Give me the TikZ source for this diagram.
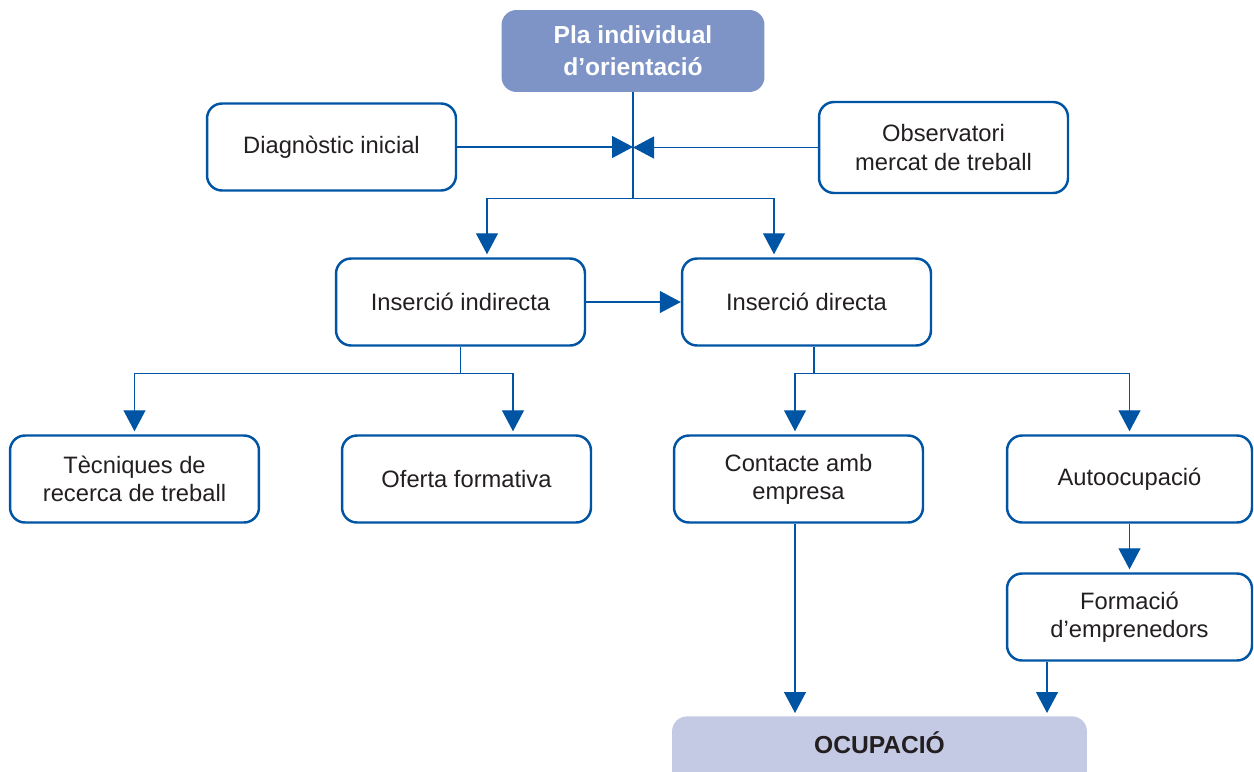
\documentclass[tikz,border=0pt]{standalone}
\usepackage{fontspec}
\setmainfont{Liberation Sans}
\usetikzlibrary{arrows.meta}
\definecolor{blau}{RGB}{0,84,164}
\definecolor{blaupla}{RGB}{127,148,198}
\definecolor{blauocu}{RGB}{197,202,228}
\definecolor{tinta}{RGB}{35,31,32}
\begin{document}
\begin{tikzpicture}[x=0.02cm,y=-0.02cm,>={Triangle[length=0.42cm,width=0.44cm]},
		caixa/.style={draw=blau,line width=1.4pt,rounded corners=0.3cm,fill=white,minimum width=4.98cm,minimum height=1.74cm,align=center,text=tinta,font=\fontsize{13.5}{16}\selectfont},
		fil/.style={draw=blau,line width=0.7pt},
		fletxa/.style={fil,->,shorten >=0.06cm}]
				\clip (0,0) rectangle (1254,771);
				\node[fill=blaupla,rounded corners=0.3cm,minimum width=5.26cm,minimum height=1.64cm,align=center,text=white,font=\bfseries\fontsize{14}{18}\selectfont] (pla) at (633,51) {Pla individual\\d’orientació};
				\node[caixa] (diag) at (331.5,147) {Diagnòstic inicial};
				\node[caixa,minimum height=1.82cm] (obs) at (943.5,147.5) {Observatori\\mercat de treball};
				\node[caixa] (indir) at (460.5,302) {Inserció indirecta};
				\node[caixa] (dir) at (806.5,302) {Inserció directa};
				\node[caixa] (tec) at (134.5,479) {Tècniques de\\recerca de treball};
				\node[caixa] (ofe) at (466.5,479) {Oferta formativa};
				\node[caixa] (con) at (798.5,479) {Contacte amb\\empresa};
				\node[caixa,minimum width=4.9cm] (auto) at (1129.5,479) {Autoocupació};
				\node[caixa,minimum width=4.9cm] (form) at (1129.5,617) {Formació\\d’emprenedors};
				\node[fill=blauocu,rounded corners=0.3cm,anchor=north,minimum width=8.3cm,inner ysep=0pt,text height=0.74cm,text depth=1.0cm,text=tinta,font=\bfseries\fontsize{14}{16}\selectfont] (ocu) at (879.5,716) {OCUPACIÓ};
				\draw[fil] (pla.south) -- ++(0,106) coordinate (split);
				\draw[fil,->] (diag) -- (diag -| pla);
				\draw[fil,->] (obs) -- (obs -| pla);
				\draw[fletxa] (split) -| ([xshift=0.53cm]indir.north);
				\draw[fletxa] (split) -| ([xshift=-0.65cm]dir.north);
				\draw[fil,->] (indir) -- (dir);
				\draw[fil] (indir.south) -- ++(0,27) coordinate (isplit);
				\draw[fletxa] (isplit) -| (tec);
				\draw[fletxa] (isplit) -| ([xshift=0.93cm]ofe.north);
				\draw[fil] ([xshift=0.15cm]dir.south) -- ++(0,27) coordinate (dsplit);
				\draw[fletxa] (dsplit) -| ([xshift=-0.07cm]con.north);
				\draw[fletxa] (dsplit) -| (auto);
				\draw[fletxa] (auto) -- (form);
				\draw[fletxa] ([xshift=-0.07cm]con.south) -- ([xshift=-0.07cm]con.south |- ocu.north);
				\draw[fletxa] ([xshift=-1.65cm]form.south) -- ([xshift=-1.65cm]form.south |- ocu.north);
			\end{tikzpicture}
\end{document}
